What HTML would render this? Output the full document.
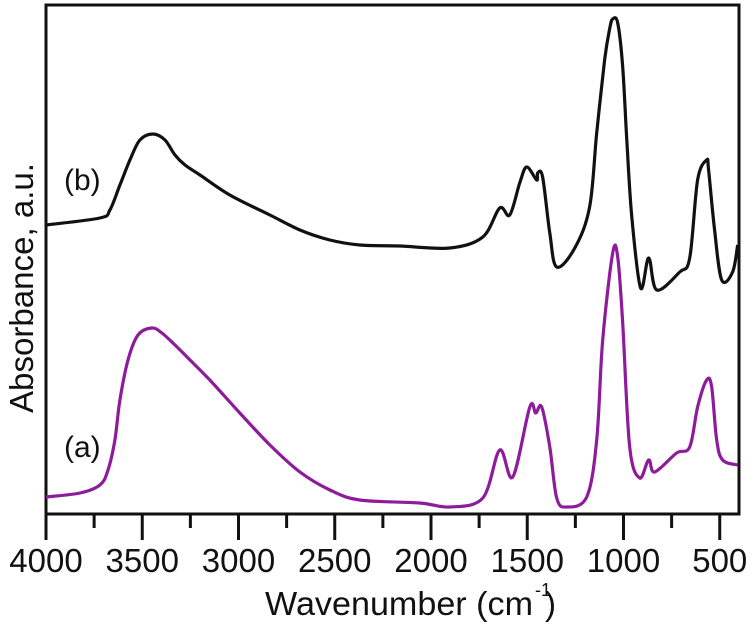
<!DOCTYPE html>
<html><head><meta charset="utf-8"><style>
html,body{margin:0;padding:0;background:#fff;}
svg{display:block;}
text{font-family:"Liberation Sans",sans-serif;fill:#111;}
</style></head><body>
<svg id="chart" width="752" height="628" viewBox="0 0 752 628" xmlns="http://www.w3.org/2000/svg">
<g id="axes"></g>
<g id="series"></g>
<text x="64" y="190" font-size="30">(b)</text>
<text x="64" y="457" font-size="30">(a)</text>
<text transform="translate(33,288) rotate(-90)" text-anchor="middle" font-size="33" textLength="250" lengthAdjust="spacingAndGlyphs">Absorbance, a.u.</text>
<text x="265" y="615" font-size="33" textLength="268" lengthAdjust="spacingAndGlyphs">Wavenumber (cm</text>
<text x="535" y="596" font-size="18">-1</text>
<text x="545" y="615" font-size="33">)</text>
</svg>
<script>
const tickValues = [4000,3500,3000,2500,2000,1500,1000,500];
const tickLabels = ["4000","3500","3000","2500","2000","1500","1000","500"];
const minorTicks = [3750,3250,2750,2250,1750,1250,750];
const wavenumberA = [4000,3823,3720,3678,3642,3616,3574,3522,3450,3398,3330,3252,3149,2993,2837,2681,2525,2370,2058,1902,1731,1643,1575,1487,1456,1425,1383,1347,1295,1191,1139,1108,1056,1030,1004,968,916,869,838,724,656,615,568,542,516,485,407];
const absorbA = [17,21,29,44,74,114,154,179,186,181,169,154,134,101,69,42,24,14,11,7,16,64,37,107,101,107,67,16,7,17,74,174,261,257,191,67,36,54,42,61,67,107,134,127,74,54,49];
const wavenumberB = [4000,3720,3668,3616,3564,3512,3444,3382,3330,3278,3200,3045,2837,2681,2525,2370,2162,1902,1731,1643,1591,1539,1503,1451,1446,1420,1383,1347,1253,1176,1139,1098,1071,1056,1030,1004,983,957,911,869,827,708,656,615,568,558,527,490,433,407];
const absorbB = [289,296,304,329,354,374,380,374,359,349,339,319,299,284,274,269,268,266,277,306,299,331,347,334,341,337,281,247,266,307,381,454,486,495,491,447,374,297,226,256,224,242,256,334,354,344,284,234,242,269];

const NS="http://www.w3.org/2000/svg";
const L=46,R=739,T=5,B=514;
const xS = w => L + (4000 - w) * (R - L) / (4000 - 400);
const yS = v => B - v * (B - T) / 509;
function mk(tag, attrs, parent){const e=document.createElementNS(NS,tag);for(const k in attrs)e.setAttribute(k,attrs[k]);parent.appendChild(e);return e;}
const axes=document.getElementById('axes');
const frame=mk('rect',{x:L,y:T,width:R-L,height:B-T,fill:'none',stroke:'#111','stroke-width':3},axes);


tickValues.forEach((v,i)=>{
  const x=xS(v);
  const t=mk('line',{x1:x,x2:x,y1:B,y2:540,stroke:'#111','stroke-width':3},axes);
  
  
  const lb=mk('text',{x:x,y:572,'text-anchor':'middle','font-size':33},axes);
  lb.textContent=tickLabels[i];
  
  
});
minorTicks.forEach(v=>{
  const x=xS(v);
  const t=mk('line',{x1:x,x2:x,y1:B,y2:528,stroke:'#111','stroke-width':3},axes);
  
  
});
function pathFor(ws,vs){
  const p=ws.map((w,i)=>[xS(w),yS(vs[i])]);
  let d='M'+p[0][0].toFixed(1)+','+p[0][1].toFixed(1);
  for(let i=0;i<p.length-1;i++){
    const p0=p[i-1]||p[i],p1=p[i],p2=p[i+1],p3=p[i+2]||p2;
    const c1=[p1[0]+(p2[0]-p0[0])/6,p1[1]+(p2[1]-p0[1])/6];
    const c2=[p2[0]-(p3[0]-p1[0])/6,p2[1]-(p3[1]-p1[1])/6];
    d+=' C'+c1[0].toFixed(1)+','+c1[1].toFixed(1)+' '+c2[0].toFixed(1)+','+c2[1].toFixed(1)+' '+p2[0].toFixed(1)+','+p2[1].toFixed(1);
  }
  return d;
}
const sg=document.getElementById('series');
const la=mk('path',{d:pathFor(wavenumberA,absorbA),fill:'none',stroke:'#8e1b9c','stroke-width':3.2,'stroke-linejoin':'round'},sg);


const lbb=mk('path',{d:pathFor(wavenumberB,absorbB),fill:'none',stroke:'#111','stroke-width':3.2,'stroke-linejoin':'round'},sg);


</script>
</body></html>
